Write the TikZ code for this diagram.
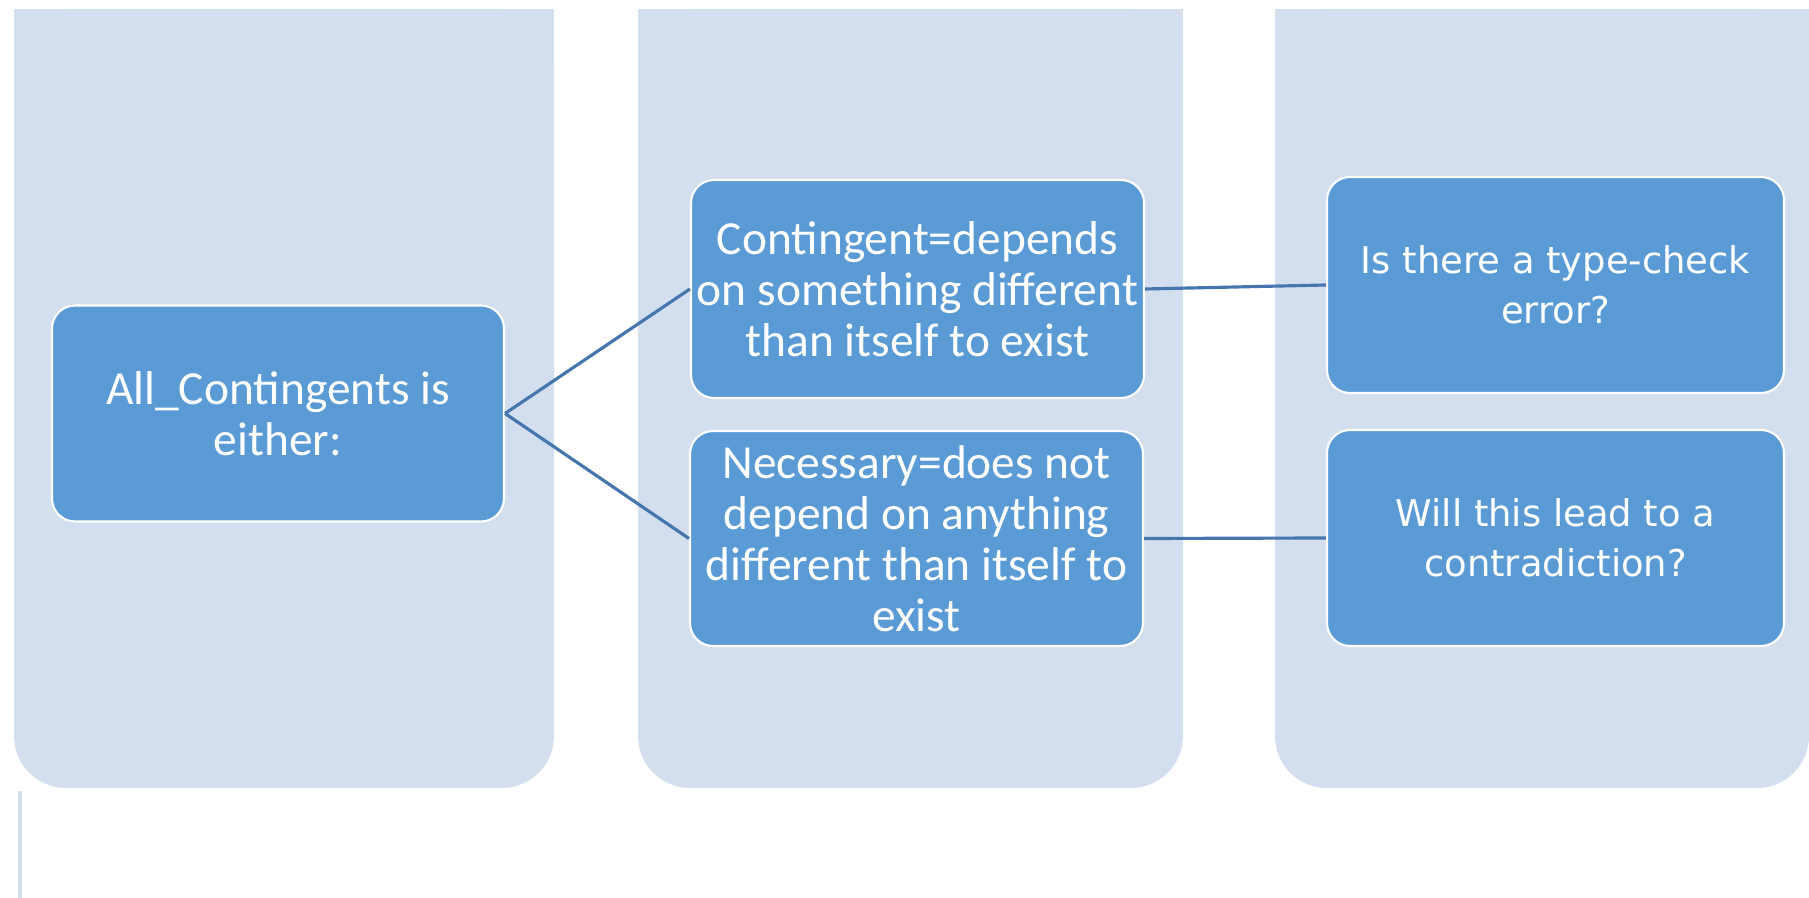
\documentclass[tikz,border=0pt]{standalone}
\usepackage{fontspec}
\setmainfont{Carlito}
\newfontfamily\verdanafont{DejaVu Sans}
\definecolor{PaleBlue}{HTML}{D3DFEE}
\definecolor{MidBlue}{HTML}{5B9BD5}
\definecolor{LineBlue}{HTML}{4576AE}

\begin{document}
\begin{tikzpicture}[x=.1mm,y=-.1mm,
  itembox/.style={draw=white,line width=.6pt,fill=MidBlue,rounded corners=2.3mm,
    text=white,align=center,inner sep=0pt,minimum height=21.6mm,minimum width=45.3mm},
  calibri/.style={font=\fontsize{13.5}{14.5}\selectfont},
  verdana/.style={font=\verdanafont\fontsize{10.5}{14.2}\selectfont},
  link/.style={LineBlue,line width=.9pt}]
\def\rad{5.2mm}
\useasboundingbox (0,0) rectangle (1809,898);

% three columns, square at the top, rounded at the bottom
\fill[PaleBlue,rounded corners=\rad] (14,9) rectangle (554,788);
\fill[PaleBlue] (14,9) rectangle (554,80);
\fill[PaleBlue,rounded corners=\rad] (638,9) rectangle (1183,788);
\fill[PaleBlue] (638,9) rectangle (1183,80);
\fill[PaleBlue,rounded corners=\rad] (1275,9) rectangle (1809,788);
\fill[PaleBlue] (1275,9) rectangle (1809,80);
\draw[PaleBlue,line width=1.2pt] (20,791) -- (20,898);

\node[itembox,calibri,minimum width=45.2mm] (all) at (278,413.5) {All\_Contingents is\\either:};
\node[itembox,calibri,minimum height=21.8mm] (cont) at (917.5,289) {Contingent=depends\\on something different\\than itself to exist};
\node[itembox,calibri,minimum height=21.5mm] (nec) at (916.5,538.5) {Necessary=does not\\depend on anything\\different than itself to\\exist};
\node[itembox,verdana,minimum width=45.7mm] (tc) at (1555.5,285) {Is there a type-check\\error?};
\node[itembox,verdana,minimum width=45.7mm] (contra) at (1555.5,538) {Will this lead to a\\contradiction?};

\draw[link] (all.east) -- (cont.west);
\draw[link] (all.east) -- (nec.west);
\draw[link] (cont.east) -- (tc.west);
\draw[link] (nec.east) -- (contra.west);
\end{tikzpicture}
\end{document}
